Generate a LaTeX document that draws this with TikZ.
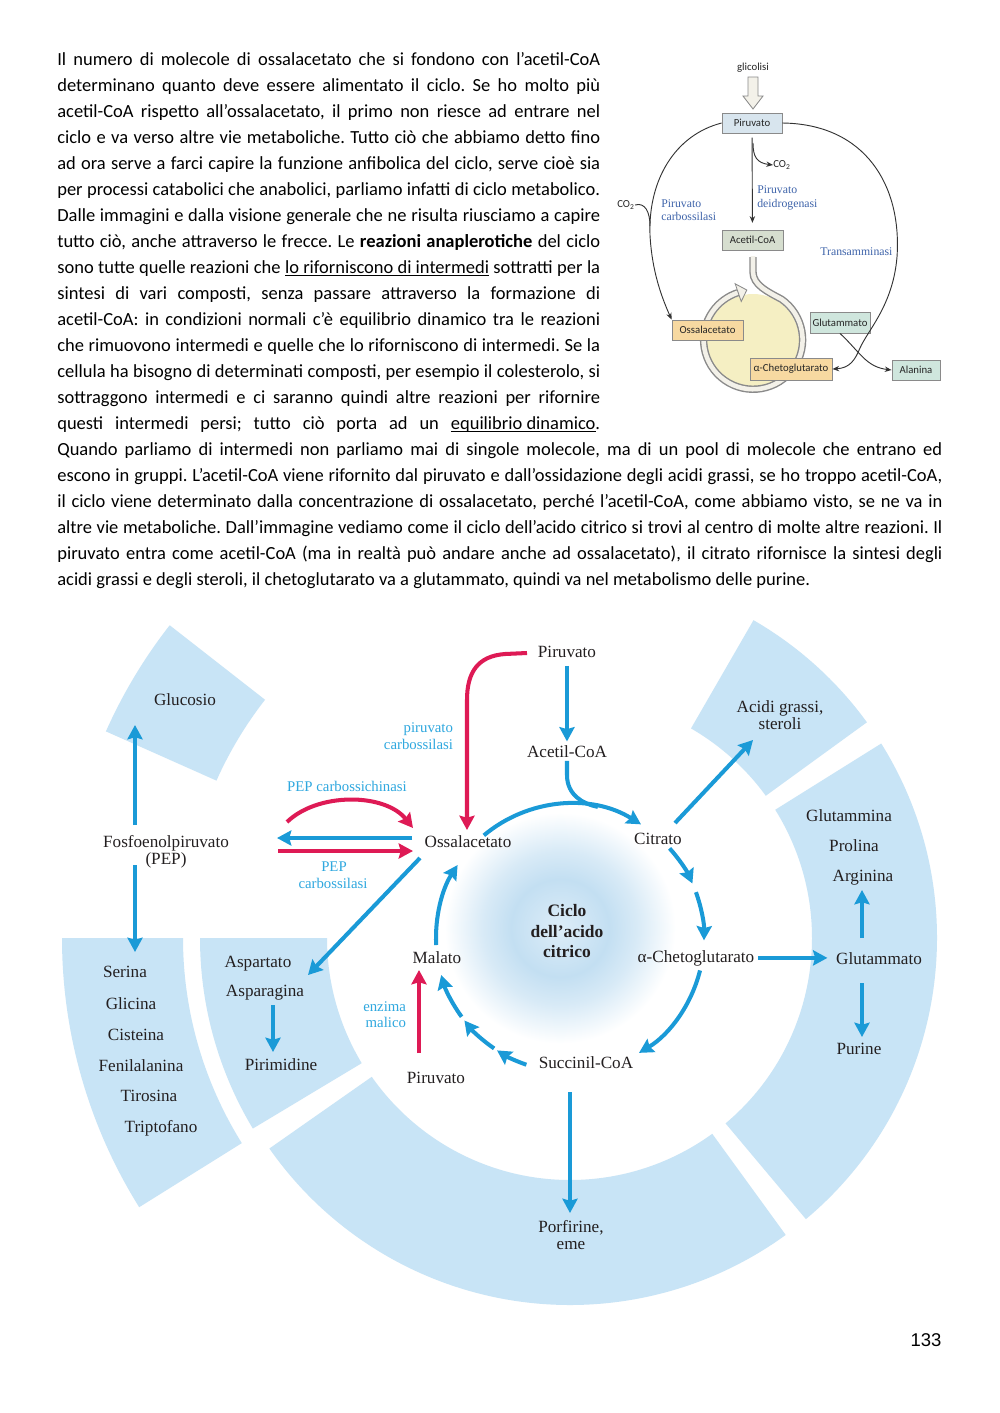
\documentclass[tikz,border=0pt]{standalone}
\usepackage{fontspec}
\setmainfont{Carlito}
\newfontfamily\bodyfont{Carlito}
\newfontfamily\figserif{Liberation Serif}
\newfontfamily\smallsans{Carlito}
\newfontfamily\pagefont{Liberation Sans}
\usetikzlibrary{arrows.meta,calc}
\frenchspacing
\definecolor{txtdark}{HTML}{231F20}
\definecolor{secfill}{HTML}{C8E4F6}
\definecolor{arrblue}{HTML}{1A9AD7}
\definecolor{arrred}{HTML}{DE1A55}
\definecolor{lblblue}{HTML}{2FA8DF}
\definecolor{glowin}{HTML}{DDEDF8}
\definecolor{glowmid}{HTML}{C3DFF2}
\definecolor{sgray}{HTML}{8A8A8A}
\definecolor{pirfill}{HTML}{D8E5EE}
\definecolor{acefill}{HTML}{D6DECF}
\definecolor{orfill}{HTML}{F7D9A1}
\definecolor{grfill}{HTML}{CFE6DD}
\definecolor{yelfill}{HTML}{F5EFC3}
\definecolor{pipein}{HTML}{F3F1E9}
\definecolor{sblue}{HTML}{3F64AA}
\definecolor{sdark}{HTML}{333333}
\pgfdeclareradialshading{cycglow}{\pgfpoint{0bp}{0bp}}{color(0bp)=(glowin); color(7bp)=(glowmid); color(11bp)=(glowmid!65!white); color(16.5bp)=(white); color(50bp)=(white)}
\newcommand\myul[1]{\setbox0\hbox{#1}\rlap{\rule[-1.7pt]{\wd0}{0.5pt}}\box0\relax}
\newcommand\ringsector[4]{\fill[secfill] ($(C)+(#3:#1)$) arc[start angle=#3,end angle=#4,radius=#1] -- ($(C)+(#4:#2)$) arc[start angle=#4,end angle=#3,radius=#2] -- cycle;}
\newcommand\cycarc[2]{\draw[barb] ($(C)+(#1:134)$) arc[start angle=#1,end angle=#2,radius=134];}
\tikzset{
 para/.style={anchor=base west, inner sep=0pt, font=\bodyfont\fontsize{11}{13}\selectfont, text=black},
 lbl/.style={anchor=base, inner sep=2pt, font=\figserif\fontsize{10.2}{12}\selectfont, text=txtdark},
 lblb/.style={lbl, font=\figserif\bfseries\fontsize{10.4}{12}\selectfont},
 enz/.style={anchor=base, inner sep=1pt, font=\figserif\fontsize{8.8}{10}\selectfont, text=lblblue},
 barb/.style={draw=arrblue, line width=2.4pt, -{Stealth[length=8.5pt,width=9pt,inset=1.2pt]}},
 bline/.style={draw=arrblue, line width=2.4pt},
 rarr/.style={draw=arrred, line width=2.4pt, -{Stealth[length=8.5pt,width=9pt,inset=1.2pt]}},
 sbox/.style={draw=sgray, line width=0.5pt, inner sep=0pt, font=\smallsans\fontsize{6.4}{7}\selectfont, text=black!85},
 stxt/.style={inner sep=0pt, font=\smallsans\fontsize{6.4}{7}\selectfont, text=black!85},
 senz/.style={inner sep=0pt, anchor=base west, font=\figserif\fontsize{7}{8}\selectfont, text=sblue},
 thin/.style={draw=sdark, line width=0.55pt, -{Stealth[length=4pt,width=3.2pt]}},
 thinl/.style={draw=sdark, line width=0.55pt}
}
\begin{document}
\begin{tikzpicture}[x=0.595pt,y=-0.595pt]
\useasboundingbox (0,0) rectangle (1000,1413);
\fill[white] (0,0) rectangle (1000,1413);

% ---------------- paragraph ----------------
\node[para] (l1) at (57,65) {\hbox to 323pt{Il numero di molecole di ossalacetato che si fondono con l’acetil-CoA}};
\node[para] (l2) at (57,91) {\hbox to 323pt{determinano quanto deve essere alimentato il ciclo. Se ho molto più}};
\node[para] (l3) at (57,117) {\hbox to 323pt{acetil-CoA rispetto all’ossalacetato, il primo non riesce ad entrare nel}};
\node[para] (l4) at (57,143) {\hbox to 323pt{ciclo e va verso altre vie metaboliche. Tutto ciò che abbiamo detto fino}};
\node[para] (l5) at (57,169) {\hbox to 323pt{ad ora serve a farci capire la funzione anfibolica del ciclo, serve cioè sia}};
\node[para] (l6) at (57,195) {\hbox to 323pt{per processi catabolici che anabolici, parliamo infatti di ciclo metabolico.}};
\node[para] (l7) at (57,221) {\hbox to 323pt{Dalle immagini e dalla visione generale che ne risulta riusciamo a capire}};
\node[para] (l8) at (57,247) {\hbox to 323pt{tutto ciò, anche attraverso le frecce. Le \textbf{reazioni anaplerotiche} del ciclo}};
\node[para] (l9) at (57,273) {\hbox to 323pt{sono tutte quelle reazioni che \myul{lo riforniscono di intermedi} sottratti per la}};
\node[para] (l10) at (57,299) {\hbox to 323pt{sintesi di vari composti, senza passare attraverso la formazione di}};
\node[para] (l11) at (57,325) {\hbox to 323pt{acetil-CoA: in condizioni normali c’è equilibrio dinamico tra le reazioni}};
\node[para] (l12) at (57,351) {\hbox to 323pt{che rimuovono intermedi e quelle che lo riforniscono di intermedi. Se la}};
\node[para] (l13) at (57,377) {\hbox to 323pt{cellula ha bisogno di determinati composti, per esempio il colesterolo, si}};
\node[para] (l14) at (57,403) {\hbox to 323pt{sottraggono intermedi e ci saranno quindi altre reazioni per rifornire}};
\node[para] (l15) at (57,429) {\hbox to 323pt{questi intermedi persi; tutto ciò porta ad un \myul{equilibrio dinamico}.}};
\node[para] (l16) at (57,455) {\hbox to 526.6pt{Quando parliamo di intermedi non parliamo mai di singole molecole, ma di un pool di molecole che entrano ed}};
\node[para] (l17) at (57,481) {\hbox to 526.6pt{escono in gruppi. L’acetil-CoA viene rifornito dal piruvato e dall’ossidazione degli acidi grassi, se ho troppo acetil-CoA,}};
\node[para] (l18) at (57,507) {\hbox to 526.6pt{il ciclo viene determinato dalla concentrazione di ossalacetato, perché l’acetil-CoA, come abbiamo visto, se ne va in}};
\node[para] (l19) at (57,533) {\hbox to 526.6pt{altre vie metaboliche. Dall’immagine vediamo come il ciclo dell’acido citrico si trovi al centro di molte altre reazioni. Il}};
\node[para] (l20) at (57,559) {\hbox to 526.6pt{piruvato entra come acetil-CoA (ma in realtà può andare anche ad ossalacetato), il citrato rifornisce la sintesi degli}};
\node[para] (l21) at (57,585) {acidi grassi e degli steroli, il chetoglutarato va a glutammato, quindi va nel metabolismo delle purine.};

% ---------------- small diagram ----------------
\node[stxt] (sgl) at (753,68) {glicolisi};
\draw[sgray, fill=pipein, line width=0.5pt] (748,77) -- (758,77) -- (758,96) -- (763,96) -- (753,109) -- (743,96) -- (748,96) -- cycle;
\fill[yelfill] (753,340) circle[radius=46];
\draw[sgray, line width=4.4pt] (753,257) -- (753,272) .. controls (753,285) and (768,292) .. (781.5,299.2) arc[start angle=-55,end angle=252,radius=49.5];
\draw[pipein, line width=2.7pt] (753,256) -- (753,272) .. controls (753,285) and (768,292) .. (781.5,299.2) arc[start angle=-55,end angle=252,radius=49.5];
\draw[sgray, fill=pipein, line width=0.5pt] (746.8,290) -- (741.2,301.5) -- (735.2,283.8) -- cycle;
\node[sbox, fill=pirfill, minimum width=35.7pt, minimum height=11.9pt] (sPir) at (752,123) {Piruvato};
\node[sbox, fill=acefill, minimum width=36.3pt, minimum height=11.9pt] (sAce) at (752.5,240) {Acetil-CoA};
\node[sbox, fill=orfill, minimum width=42.2pt, minimum height=11.9pt] (sOaa) at (707.5,330) {Ossalacetato};
\node[sbox, fill=orfill, minimum width=48.8pt, minimum height=13pt] (sAkg) at (791,369) {α-Chetoglutarato};
\node[sbox, fill=grfill, minimum width=35.7pt, minimum height=12.5pt] (sGlu) at (840,322.5) {Glutammato};
\node[sbox, fill=grfill, minimum width=28.6pt, minimum height=11.9pt] (sAla) at (916,370) {Alanina};
\draw[thin, shorten <=2.5pt, shorten >=4pt] (sPir) -- (sAce);
\coordinate (sco0) at (753,143);
\node[stxt, anchor=west] (sCO2a) at (773,165) {CO\textsubscript{2}};
\draw[thin] (sco0) .. controls (753,157) and (757,163) .. (sCO2a.west);
\node[senz] (sPd1) at (757,193) {Piruvato};
\node[senz] (sPd2) at (757,207) {deidrogenasi};
\node[stxt] (sCO2b) at (626,205) {CO\textsubscript{2}};
\coordinate (sjoin) at (650,226);
\draw[thinl] (sCO2b.east) .. controls (645,202) and (650,212) .. (sjoin);
\draw[thin] (sPir.west) .. controls (675,135) and (648,180) .. (650,235) .. controls (652,272) and (662,298) .. (sOaa.north west);
\node[senz] (sPc1) at (661,207) {Piruvato};
\node[senz] (sPc2) at (661,220) {carbossilasi};
\draw[thin] (sPir.east) .. controls (865,124) and (902,185) .. (897,257) .. controls (893,305) and (868,330) .. (860,348) .. controls (855,360) and (850,368) .. (sAkg.east);
\node[senz] (sTr) at (820,255) {Transamminasi};
\draw[thin] (sGlu.south) .. controls (860,352) and (866,367) .. (sAla.west);

% ---------------- big diagram: sectors ----------------
\coordinate (C) at (570,938);
\ringsector{242}{367}{-60}{-36}
\ringsector{242}{367}{-32}{50}
\ringsector{242}{367}{54}{145}
\ringsector{243}{370}{149}{180}
\ringsector{387}{508}{148}{180}
\ringsector{387}{508}{-156}{-142}
\shade[shading=cycglow] (560,928) circle[radius=175];

% labels
\node[lbl] (piruT) at (567,657) {Piruvato};
\node[lbl] (acet) at (567,757) {Acetil-CoA};
\node[enz, anchor=base east] (epc1) at (455,732) {piruvato};
\node[enz, anchor=base east] (epc2) at (455,749) {carbossilasi};
\node[enz] (pepck) at (347,791) {PEP carbossichinasi};
\node[lbl] (oaa) at (468,847) {Ossalacetato};
\node[lbl] (cit) at (658,844) {Citrato};
\node[lbl] (pep1) at (166,847) {Fosfoenolpiruvato};
\node[lbl] (pep2) at (166,864) {(PEP)};
\node[enz] (pepc1) at (334,871) {PEP};
\node[enz] (pepc2) at (333,888) {carbossilasi};
\node[lbl] (gluc) at (185,705) {Glucosio};
\node[lbl] (acid1) at (780,712) {Acidi grassi,};
\node[lbl] (acid2) at (780,729) {steroli};
\node[lbl] (gln) at (849,821) {Glutammina};
\node[lbl] (pro) at (854,851) {Prolina};
\node[lbl] (arg) at (863,881) {Arginina};
\node[lbl] (glu) at (879,964) {Glutammato};
\node[lbl] (akg) at (696,962) {α-Chetoglutarato};
\node[lbl] (pur) at (859,1054) {Purine};
\node[lbl] (suc) at (586,1068) {Succinil-CoA};
\node[lbl] (por1) at (571,1232) {Porfirine,};
\node[lbl] (por2) at (571,1249) {eme};
\node[lblb] (cic1) at (567,916) {Ciclo};
\node[lblb] (cic2) at (567,937) {dell’acido};
\node[lblb] (cic3) at (567,957) {citrico};
\node[lbl] (mal) at (437,963) {Malato};
\node[lbl] (piruB) at (436,1083) {Piruvato};
\node[enz, anchor=base east] (em1) at (408,1011) {enzima};
\node[enz, anchor=base east] (em2) at (408,1027) {malico};
\node[lbl] (asp) at (258,967) {Aspartato};
\node[lbl] (asn) at (265,996) {Asparagina};
\node[lbl] (pyr) at (281,1070) {Pirimidine};
\node[lbl] (ser) at (125,977) {Serina};
\node[lbl] (gly) at (131,1009) {Glicina};
\node[lbl] (cys) at (136,1040) {Cisteina};
\node[lbl] (phe) at (141,1071) {Fenilalanina};
\node[lbl] (tyr) at (149,1101) {Tirosina};
\node[lbl] (trp) at (161,1132) {Triptofano};
\node[inner sep=0pt, font=\pagefont\fontsize{11}{13}\selectfont] (pg) at (926,1340) {133};

% connectors: blue
\draw[barb, shorten <=3pt] (piruT) -- (acet);
\cycarc{-130}{-58}
\cycarc{-42}{-24}
\cycarc{-20}{1}
\cycarc{14}{59}
\cycarc{109}{123}
\cycarc{124.5}{142}
\cycarc{144}{164}
\cycarc{177}{213}
\coordinate (j1) at ($(C)+(-78:134)$);
\draw[bline] (acet.south) -- (567,775) .. controls (567,795) and (583,804) .. (j1);
\coordinate (ca0) at (675,823); \coordinate (ca1) at (753,740);
\draw[barb] (ca0) -- (ca1);
\draw[barb, shorten >=3pt] (akg.east) -- (akg.east -| glu.west);
\coordinate (g0) at (862,938); \coordinate (g1) at (862,890);
\draw[barb] (g0) -- (g1);
\coordinate (g2) at (862,983); \coordinate (g3) at (862,1037);
\draw[barb] (g2) -- (g3);
\coordinate (s0) at (570,1092); \coordinate (s1) at (570,1213);
\draw[barb] (s0) -- (s1);
\coordinate (o0) at (420,858); \coordinate (o1) at (308,975);
\draw[barb] (o0) -- (o1);
\coordinate (p0) at (135,825); \coordinate (p1) at (135,725);
\draw[barb] (p0) -- (p1);
\coordinate (p2) at (135,865); \coordinate (p3) at (135,952);
\draw[barb] (p2) -- (p3);
\coordinate (a0) at (273,1005); \coordinate (a1) at (273,1052);
\draw[barb] (a0) -- (a1);
\coordinate (b0) at (412,838); \coordinate (b1) at (277,838);
\draw[barb] (b0) -- (b1);
% red
\coordinate (r0) at (278,851); \coordinate (r1) at (413,851);
\draw[rarr] (r0) -- (r1);
\coordinate (r2) at (287,822); \coordinate (r3) at (413,828);
\draw[rarr] (r2) .. controls (318,792) and (385,793) .. (r3);
\coordinate (r4) at (527,653); \coordinate (r5) at (467,830);
\draw[rarr] (r4) -- (505,654) .. controls (478,656) and (467,672) .. (467,700) -- (r5);
\coordinate (r6) at (419,1053); \coordinate (r7) at (419,970);
\draw[rarr] (r6) -- (r7);
\end{tikzpicture}
\end{document}
